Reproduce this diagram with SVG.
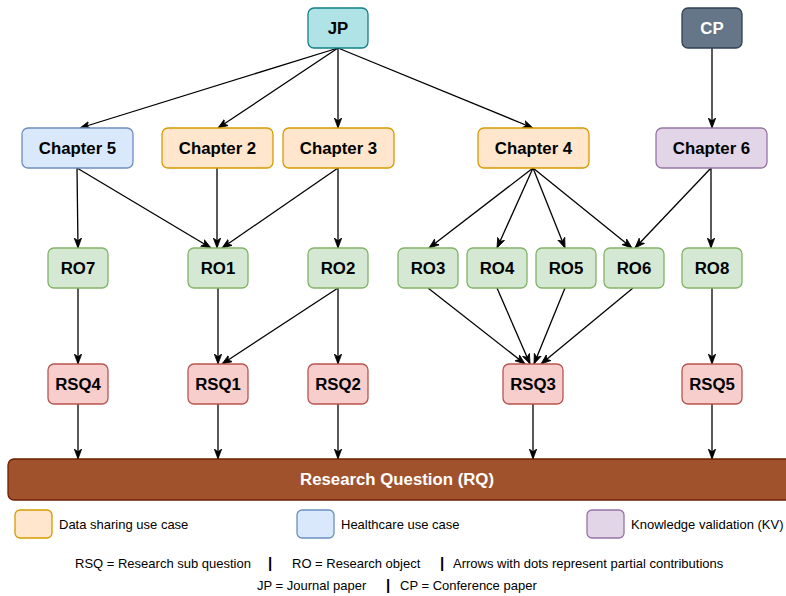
<svg xmlns="http://www.w3.org/2000/svg" width="786" height="596" viewBox="0 0 786 596">
<style>
.n rect{stroke-width:1.3}
.lbl{font-family:"Liberation Sans",Arial,Helvetica,sans-serif;font-weight:bold;font-size:16.8px;text-anchor:middle;dominant-baseline:central;fill:#000}
.w{fill:#fff}
.jp{fill:#b0e3e6;stroke:#0e8088}
.cp{fill:#647687;stroke:#314354}
.blue{fill:#dae8fc;stroke:#6c8ebf}
.orange{fill:#ffe6cc;stroke:#d79b00}
.purple{fill:#e1d5e7;stroke:#9673a6}
.green{fill:#d5e8d4;stroke:#82b366}
.red{fill:#f8cecc;stroke:#b85450}
.rq{fill:#a0522d;stroke:#6d1f00}
.e path,.e line{stroke:#000;stroke-width:1.3;fill:none;marker-end:url(#arr)}
.t{font-family:"Liberation Sans",Arial,Helvetica,sans-serif;font-size:13px;fill:#000}
.sep{font-family:"Liberation Sans",Arial,sans-serif;font-size:15px;font-weight:bold;fill:#000;text-anchor:middle}
</style>
<defs>
<marker id="arr" markerUnits="userSpaceOnUse" markerWidth="11" markerHeight="9" refX="10" refY="4.5" orient="auto">
<path d="M0,0.8 L10,4.5 L0,8.2 L2.8,4.5 Z" fill="#000" stroke="#000" stroke-width="0.8"/>
</marker>
</defs>

<g id="edges" class="e">
<line x1="338" y1="48" x2="80" y2="128"/>
<line x1="338" y1="48" x2="218" y2="128"/>
<line x1="338" y1="48" x2="338" y2="128"/>
<line x1="338" y1="48" x2="533" y2="128"/>
<line x1="712" y1="48" x2="712" y2="128"/>
<line x1="77" y1="168" x2="78" y2="248"/>
<line x1="77" y1="168" x2="211" y2="248"/>
<line x1="217" y1="168" x2="217" y2="248"/>
<line x1="338" y1="168" x2="222" y2="248"/>
<line x1="338" y1="168" x2="338" y2="248"/>
<line x1="533" y1="168" x2="429" y2="248"/>
<line x1="533" y1="168" x2="497" y2="248"/>
<line x1="533" y1="168" x2="565" y2="248"/>
<line x1="533" y1="168" x2="632" y2="248"/>
<line x1="711" y1="168" x2="635" y2="248"/>
<line x1="711" y1="168" x2="711" y2="248"/>
<line x1="78" y1="288" x2="78" y2="364"/>
<line x1="218" y1="288" x2="218" y2="364"/>
<line x1="338" y1="288" x2="222" y2="364"/>
<line x1="338" y1="288" x2="338" y2="364"/>
<line x1="428" y1="288" x2="525" y2="364"/>
<line x1="497" y1="288" x2="530" y2="364"/>
<line x1="565" y1="288" x2="534" y2="364"/>
<line x1="633" y1="288" x2="541" y2="364"/>
<line x1="712" y1="288" x2="712" y2="364"/>
<line x1="78" y1="404" x2="78" y2="459"/>
<line x1="218" y1="404" x2="218" y2="459"/>
<line x1="338" y1="404" x2="338" y2="459"/>
<line x1="533" y1="404" x2="533" y2="459"/>
<line x1="712" y1="404" x2="712" y2="459"/>
</g>

<g id="JP" class="n"><rect class="jp" x="308" y="8" width="60" height="40" rx="6"/><text class="lbl" x="338" y="28">JP</text></g>
<g id="CP" class="n"><rect class="cp" x="682" y="8" width="60" height="40" rx="6"/><text class="lbl w" x="712" y="28">CP</text></g>

<g id="Chapter5" class="n"><rect class="blue" x="22" y="128" width="111" height="40" rx="6"/><text class="lbl" x="77.5" y="148">Chapter 5</text></g>
<g id="Chapter2" class="n"><rect class="orange" x="162" y="128" width="111" height="40" rx="6"/><text class="lbl" x="217.5" y="148">Chapter 2</text></g>
<g id="Chapter3" class="n"><rect class="orange" x="283" y="128" width="111" height="40" rx="6"/><text class="lbl" x="338.5" y="148">Chapter 3</text></g>
<g id="Chapter4" class="n"><rect class="orange" x="478" y="128" width="111" height="40" rx="6"/><text class="lbl" x="533.5" y="148">Chapter 4</text></g>
<g id="Chapter6" class="n"><rect class="purple" x="656" y="128" width="111" height="40" rx="6"/><text class="lbl" x="711.5" y="148">Chapter 6</text></g>

<g id="RO7" class="n"><rect class="green" x="48" y="248" width="60" height="40" rx="6"/><text class="lbl" x="78" y="268">RO7</text></g>
<g id="RO1" class="n"><rect class="green" x="188" y="248" width="60" height="40" rx="6"/><text class="lbl" x="218" y="268">RO1</text></g>
<g id="RO2" class="n"><rect class="green" x="308" y="248" width="60" height="40" rx="6"/><text class="lbl" x="338" y="268">RO2</text></g>
<g id="RO3" class="n"><rect class="green" x="398" y="248" width="60" height="40" rx="6"/><text class="lbl" x="428" y="268">RO3</text></g>
<g id="RO4" class="n"><rect class="green" x="467" y="248" width="60" height="40" rx="6"/><text class="lbl" x="497" y="268">RO4</text></g>
<g id="RO5" class="n"><rect class="green" x="536" y="248" width="60" height="40" rx="6"/><text class="lbl" x="566" y="268">RO5</text></g>
<g id="RO6" class="n"><rect class="green" x="604" y="248" width="60" height="40" rx="6"/><text class="lbl" x="634" y="268">RO6</text></g>
<g id="RO8" class="n"><rect class="green" x="682" y="248" width="60" height="40" rx="6"/><text class="lbl" x="712" y="268">RO8</text></g>

<g id="RSQ4" class="n"><rect class="red" x="48" y="364" width="60" height="40" rx="6"/><text class="lbl" x="78" y="384">RSQ4</text></g>
<g id="RSQ1" class="n"><rect class="red" x="188" y="364" width="60" height="40" rx="6"/><text class="lbl" x="218" y="384">RSQ1</text></g>
<g id="RSQ2" class="n"><rect class="red" x="308" y="364" width="60" height="40" rx="6"/><text class="lbl" x="338" y="384">RSQ2</text></g>
<g id="RSQ3" class="n"><rect class="red" x="503" y="364" width="60" height="40" rx="6"/><text class="lbl" x="533" y="384">RSQ3</text></g>
<g id="RSQ5" class="n"><rect class="red" x="682" y="364" width="60" height="40" rx="6"/><text class="lbl" x="712" y="384">RSQ5</text></g>

<g id="RQ" class="n"><rect class="rq" x="8" y="459" width="786" height="41" rx="6"/><text class="lbl w" x="397" y="479.5">Research Question (RQ)</text></g>

<g id="legend">
<rect class="orange" x="15" y="510" width="37" height="28" rx="5" stroke-width="1.3"/>
<text class="t" x="59" y="528.5">Data sharing use case</text>
<rect class="blue" x="297" y="510" width="37" height="28" rx="5" stroke-width="1.3"/>
<text class="t" x="341" y="528.5">Healthcare use case</text>
<rect class="purple" x="587" y="510" width="37" height="28" rx="5" stroke-width="1.3"/>
<text class="t" x="631" y="528.5">Knowledge validation (KV)</text>
<text class="t" x="75" y="567.5">RSQ = Research sub question</text>
<text class="sep" x="270" y="568">|</text>
<text class="t" x="292" y="567.5">RO = Research object</text>
<text class="sep" x="442" y="568">|</text>
<text class="t" x="453" y="567.5">Arrows with dots represent partial contributions</text>
<text class="t" x="257" y="589.5">JP = Journal paper</text>
<text class="sep" x="388" y="590">|</text>
<text class="t" x="400" y="589.5">CP = Conference paper</text>
</g>
</svg>
